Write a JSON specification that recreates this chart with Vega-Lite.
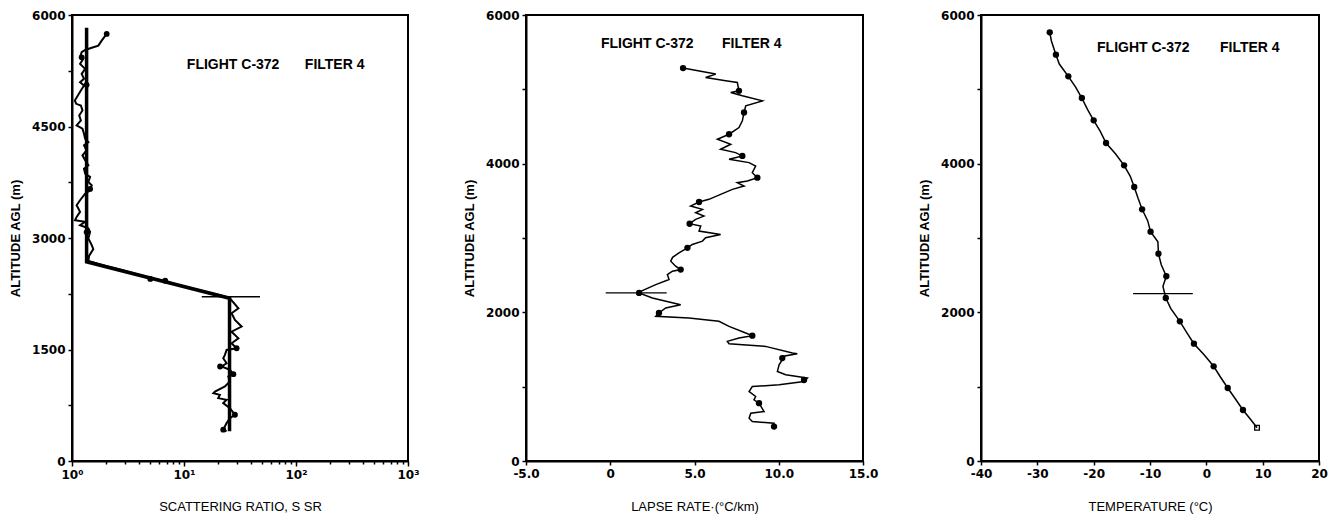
{
  "$schema": "https://vega.github.io/schema/vega-lite/v6.json",
  "background": "white",
  "padding": {"left": 8, "top": 8, "right": 5, "bottom": 5},
  "bounds": "flush",
  "spacing": 118,
  "config": {
    "view": {"stroke": "black", "strokeWidth": 2},
    "axis": {
      "grid": false,
      "domainColor": "black",
      "domainWidth": 2,
      "tickColor": "black",
      "tickWidth": 1.5,
      "tickSize": 4,
      "labelFont": "DejaVu Sans",
      "labelFontWeight": "bold",
      "labelFontSize": 12,
      "labelColor": "black",
      "labelPadding": 3,
      "labelFlush": false,
      "labelOverlap": false,
      "titleFont": "Liberation Sans",
      "titleFontSize": 13,
      "titleColor": "black"
    },
    "axisY": {"titleFontWeight": "bold", "titleX": -57, "titleY": 223, "titleAngle": 270, "titleAlign": "center", "titleBaseline": "middle"},
    "axisX": {"titleFontWeight": "normal", "titleY": 45, "titleBaseline": "middle"},
    "text": {"font": "Liberation Sans", "fontWeight": "bold", "fontSize": 14, "align": "left", "baseline": "middle", "color": "black"}
  },
  "datasets": {
    "sr_fit": [
      {"x": 1.35, "alt": 5830},
      {"x": 1.35, "alt": 2680},
      {"x": 25.5, "alt": 2190},
      {"x": 25.5, "alt": 400}
    ],
    "sr_obs": [
      {"x": 2.04, "alt": 5745}, {"x": 1.84, "alt": 5655}, {"x": 1.72, "alt": 5588}, {"x": 1.55, "alt": 5566},
      {"x": 1.31, "alt": 5530}, {"x": 1.22, "alt": 5499}, {"x": 1.18, "alt": 5432}, {"x": 1.26, "alt": 5409},
      {"x": 1.18, "alt": 5342}, {"x": 1.31, "alt": 5275}, {"x": 1.22, "alt": 5208}, {"x": 1.28, "alt": 5141},
      {"x": 1.18, "alt": 5096}, {"x": 1.28, "alt": 5051}, {"x": 1.20, "alt": 4984}, {"x": 1.06, "alt": 4850},
      {"x": 1.09, "alt": 4805}, {"x": 1.20, "alt": 4783}, {"x": 1.24, "alt": 4716}, {"x": 1.16, "alt": 4649},
      {"x": 1.20, "alt": 4581}, {"x": 1.10, "alt": 4514}, {"x": 1.24, "alt": 4470}, {"x": 1.28, "alt": 4402},
      {"x": 1.31, "alt": 4335}, {"x": 1.40, "alt": 4291}, {"x": 1.28, "alt": 4246}, {"x": 1.35, "alt": 4179},
      {"x": 1.24, "alt": 4112}, {"x": 1.31, "alt": 4045}, {"x": 1.40, "alt": 3977}, {"x": 1.28, "alt": 3933},
      {"x": 1.31, "alt": 3866}, {"x": 1.45, "alt": 3821}, {"x": 1.40, "alt": 3754}, {"x": 1.50, "alt": 3709},
      {"x": 1.45, "alt": 3642}, {"x": 1.31, "alt": 3597}, {"x": 1.18, "alt": 3508}, {"x": 1.10, "alt": 3441},
      {"x": 1.18, "alt": 3351}, {"x": 1.10, "alt": 3284}, {"x": 1.064, "alt": 3239}, {"x": 1.31, "alt": 3217},
      {"x": 1.18, "alt": 3172}, {"x": 1.40, "alt": 3130}, {"x": 1.45, "alt": 3083}, {"x": 1.40, "alt": 2993},
      {"x": 1.50, "alt": 2904}, {"x": 1.55, "alt": 2850}, {"x": 1.42, "alt": 2760}, {"x": 1.40, "alt": 2690},
      {"x": 2.0, "alt": 2625}, {"x": 3.0, "alt": 2555}, {"x": 4.8, "alt": 2468}, {"x": 5.5, "alt": 2445},
      {"x": 6.8, "alt": 2425}, {"x": 8.0, "alt": 2385}, {"x": 12.0, "alt": 2318}, {"x": 17.7, "alt": 2258},
      {"x": 22.0, "alt": 2220}, {"x": 25.7, "alt": 2188}, {"x": 30.6, "alt": 2054}, {"x": 26.6, "alt": 1987},
      {"x": 28.5, "alt": 1897}, {"x": 32.7, "alt": 1808}, {"x": 26.6, "alt": 1740}, {"x": 30.6, "alt": 1651},
      {"x": 26.6, "alt": 1584}, {"x": 29.5, "alt": 1517}, {"x": 24.0, "alt": 1494}, {"x": 23.2, "alt": 1427},
      {"x": 22.4, "alt": 1383}, {"x": 24.0, "alt": 1315}, {"x": 21.7, "alt": 1271}, {"x": 25.7, "alt": 1226},
      {"x": 27.6, "alt": 1168}, {"x": 24.9, "alt": 1137}, {"x": 25.7, "alt": 1069}, {"x": 23.2, "alt": 1002},
      {"x": 18.9, "alt": 935}, {"x": 18.3, "alt": 913}, {"x": 20.9, "alt": 890}, {"x": 20.2, "alt": 846},
      {"x": 24.0, "alt": 823}, {"x": 22.4, "alt": 779}, {"x": 25.7, "alt": 711}, {"x": 28.5, "alt": 622},
      {"x": 25.7, "alt": 577}, {"x": 24.0, "alt": 510}, {"x": 22.4, "alt": 421}, {"x": 24.0, "alt": 398}
    ],
    "sr_marks": [
      {"x": 2.04, "alt": 5745}, {"x": 1.22, "alt": 5430}, {"x": 1.35, "alt": 5060}, {"x": 1.45, "alt": 3660},
      {"x": 1.35, "alt": 3080}, {"x": 5.0, "alt": 2450}, {"x": 6.8, "alt": 2425}, {"x": 29.5, "alt": 1517},
      {"x": 21.0, "alt": 1271}, {"x": 27.6, "alt": 1168}, {"x": 28.5, "alt": 622}, {"x": 22.4, "alt": 421}
    ],
    "sr_inv": [{"x": 14.4, "x2": 47.7, "alt": 2211}],
    "sr_text": [
      {"label": "FLIGHT C-372", "x": 10.6, "alt": 5329},
      {"label": "FILTER 4", "x": 120, "alt": 5329}
    ],
    "lr_obs": [
      {"x": 4.32, "alt": 5286}, {"x": 6.26, "alt": 5205}, {"x": 5.66, "alt": 5160}, {"x": 6.85, "alt": 5115},
      {"x": 7.54, "alt": 5092}, {"x": 7.64, "alt": 4980}, {"x": 7.15, "alt": 4958}, {"x": 7.84, "alt": 4913},
      {"x": 9.03, "alt": 4845}, {"x": 8.04, "alt": 4778}, {"x": 7.94, "alt": 4688}, {"x": 7.84, "alt": 4576},
      {"x": 7.64, "alt": 4486}, {"x": 7.05, "alt": 4396}, {"x": 6.36, "alt": 4328}, {"x": 7.15, "alt": 4261},
      {"x": 6.55, "alt": 4194}, {"x": 7.44, "alt": 4149}, {"x": 7.84, "alt": 4104}, {"x": 7.05, "alt": 4059},
      {"x": 8.24, "alt": 4014}, {"x": 8.63, "alt": 3969}, {"x": 8.43, "alt": 3879}, {"x": 8.73, "alt": 3812},
      {"x": 8.14, "alt": 3767}, {"x": 7.54, "alt": 3744}, {"x": 7.94, "alt": 3699}, {"x": 7.25, "alt": 3654},
      {"x": 6.55, "alt": 3587}, {"x": 5.86, "alt": 3520}, {"x": 5.27, "alt": 3484}, {"x": 4.77, "alt": 3430},
      {"x": 5.47, "alt": 3385}, {"x": 5.07, "alt": 3340}, {"x": 5.56, "alt": 3295}, {"x": 5.07, "alt": 3250},
      {"x": 4.71, "alt": 3192}, {"x": 5.37, "alt": 3160}, {"x": 5.27, "alt": 3093}, {"x": 6.55, "alt": 3048},
      {"x": 5.66, "alt": 3003}, {"x": 5.47, "alt": 2958}, {"x": 4.87, "alt": 2913}, {"x": 4.58, "alt": 2868},
      {"x": 4.08, "alt": 2801}, {"x": 3.70, "alt": 2740}, {"x": 3.59, "alt": 2688}, {"x": 3.88, "alt": 2620},
      {"x": 4.18, "alt": 2575}, {"x": 3.69, "alt": 2553}, {"x": 3.39, "alt": 2508}, {"x": 3.49, "alt": 2441},
      {"x": 2.70, "alt": 2373}, {"x": 1.81, "alt": 2283}, {"x": 1.71, "alt": 2261}, {"x": 2.50, "alt": 2193},
      {"x": 4.18, "alt": 2103}, {"x": 3.29, "alt": 2059}, {"x": 2.89, "alt": 1991}, {"x": 2.70, "alt": 1946},
      {"x": 4.67, "alt": 1924}, {"x": 6.45, "alt": 1879}, {"x": 7.05, "alt": 1811}, {"x": 8.04, "alt": 1722},
      {"x": 8.43, "alt": 1686}, {"x": 7.64, "alt": 1654}, {"x": 6.95, "alt": 1609}, {"x": 7.05, "alt": 1578},
      {"x": 9.22, "alt": 1542}, {"x": 10.81, "alt": 1452}, {"x": 11.10, "alt": 1443}, {"x": 10.21, "alt": 1407},
      {"x": 10.21, "alt": 1362}, {"x": 10.02, "alt": 1295}, {"x": 9.92, "alt": 1205}, {"x": 10.41, "alt": 1160},
      {"x": 11.70, "alt": 1115}, {"x": 11.50, "alt": 1070}, {"x": 10.02, "alt": 1025}, {"x": 8.43, "alt": 1002},
      {"x": 8.24, "alt": 935}, {"x": 8.63, "alt": 868}, {"x": 8.53, "alt": 823}, {"x": 8.83, "alt": 778},
      {"x": 9.13, "alt": 665}, {"x": 8.34, "alt": 643}, {"x": 8.24, "alt": 576}, {"x": 8.43, "alt": 531},
      {"x": 9.72, "alt": 508}, {"x": 9.72, "alt": 463}
    ],
    "lr_marks": [
      {"x": 4.32, "alt": 5286}, {"x": 7.64, "alt": 4980}, {"x": 7.94, "alt": 4688}, {"x": 7.05, "alt": 4396},
      {"x": 7.84, "alt": 4104}, {"x": 8.73, "alt": 3812}, {"x": 5.27, "alt": 3484}, {"x": 4.71, "alt": 3192},
      {"x": 4.58, "alt": 2868}, {"x": 4.18, "alt": 2575}, {"x": 1.71, "alt": 2261}, {"x": 2.89, "alt": 1991},
      {"x": 8.43, "alt": 1686}, {"x": 10.21, "alt": 1385}, {"x": 11.50, "alt": 1090}, {"x": 8.83, "alt": 778},
      {"x": 9.72, "alt": 463}
    ],
    "lr_inv": [{"x": -0.27, "x2": 3.35, "alt": 2261}],
    "lr_text": [
      {"label": "FLIGHT C-372", "x": -0.55, "alt": 5609},
      {"label": "FILTER 4", "x": 6.63, "alt": 5609}
    ],
    "t_obs": [
      {"x": -27.8, "alt": 5767}, {"x": -27.5, "alt": 5650}, {"x": -26.7, "alt": 5466}, {"x": -26.1, "alt": 5340},
      {"x": -24.5, "alt": 5175}, {"x": -23.2, "alt": 5030}, {"x": -22.1, "alt": 4883}, {"x": -21.1, "alt": 4730},
      {"x": -20.0, "alt": 4583}, {"x": -18.8, "alt": 4430}, {"x": -17.8, "alt": 4278}, {"x": -16.1, "alt": 4130},
      {"x": -14.6, "alt": 3978}, {"x": -13.5, "alt": 3830}, {"x": -12.8, "alt": 3686}, {"x": -12.1, "alt": 3530},
      {"x": -11.4, "alt": 3386}, {"x": -10.4, "alt": 3230}, {"x": -9.9, "alt": 3085}, {"x": -8.6, "alt": 2950},
      {"x": -8.5, "alt": 2789}, {"x": -8.0, "alt": 2640}, {"x": -7.1, "alt": 2485}, {"x": -7.7, "alt": 2350},
      {"x": -7.2, "alt": 2193}, {"x": -6.3, "alt": 2050}, {"x": -4.7, "alt": 1879}, {"x": -3.5, "alt": 1730},
      {"x": -2.2, "alt": 1578}, {"x": -0.4, "alt": 1430}, {"x": 1.3, "alt": 1274}, {"x": 2.5, "alt": 1130},
      {"x": 3.8, "alt": 982}, {"x": 5.2, "alt": 830}, {"x": 6.5, "alt": 686}, {"x": 7.8, "alt": 565},
      {"x": 9.0, "alt": 448}
    ],
    "t_marks": [
      {"x": -27.8, "alt": 5767}, {"x": -26.7, "alt": 5466}, {"x": -24.5, "alt": 5175}, {"x": -22.1, "alt": 4883},
      {"x": -20.0, "alt": 4583}, {"x": -17.8, "alt": 4278}, {"x": -14.6, "alt": 3978}, {"x": -12.8, "alt": 3686},
      {"x": -11.4, "alt": 3386}, {"x": -9.9, "alt": 3085}, {"x": -8.5, "alt": 2789}, {"x": -7.1, "alt": 2485},
      {"x": -7.2, "alt": 2193}, {"x": -4.7, "alt": 1879}, {"x": -2.2, "alt": 1578}, {"x": 1.3, "alt": 1274},
      {"x": 3.8, "alt": 982}, {"x": 6.5, "alt": 686}, {"x": 9.0, "alt": 448}
    ],
    "t_inv": [{"x": -13.0, "x2": -2.4, "alt": 2251}],
    "t_text": [
      {"label": "FLIGHT C-372", "x": -19.4, "alt": 5556},
      {"label": "FILTER 4", "x": 2.43, "alt": 5556}
    ]
  },
  "hconcat": [
    {
      "width": 336,
      "height": 446,
      "layer": [
        {
          "data": {"name": "sr_fit"},
          "mark": {"type": "line", "color": "black", "strokeWidth": 3.5},
          "encoding": {
            "x": {"field": "x", "type": "quantitative", "scale": {"type": "log", "domain": [1, 1000], "nice": false},
              "axis": {"title": "SCATTERING RATIO,  S SR",
                "values": [1,2,3,4,5,6,7,8,9,10,20,30,40,50,60,70,80,90,100,200,300,400,500,600,700,800,900,1000],
                "labelExpr": "datum.value == 1 ? '10⁰' : datum.value == 10 ? '10¹' : datum.value == 100 ? '10²' : datum.value == 1000 ? '10³' : ''",
                "tickSize": {"condition": {"test": "datum.value == 1 || datum.value == 10 || datum.value == 100 || datum.value == 1000", "value": 5}, "value": 3}}},
            "y": {"field": "alt", "type": "quantitative", "scale": {"domain": [0, 6000], "nice": false},
              "axis": {"title": "ALTITUDE AGL (m)",
                "values": [0,750,1500,2250,3000,3750,4500,5250,6000],
                "labelExpr": "datum.value % 1500 == 0 ? format(datum.value, 'd') : ''"}},
            "order": {"field": "alt", "sort": "descending"}
          }
        },
        {
          "data": {"name": "sr_obs"},
          "mark": {"type": "line", "color": "black", "strokeWidth": 2},
          "encoding": {
            "x": {"field": "x", "type": "quantitative", "scale": {"type": "log", "domain": [1, 1000], "nice": false}},
            "y": {"field": "alt", "type": "quantitative", "scale": {"domain": [0, 6000], "nice": false}},
            "order": {"field": "alt", "sort": "descending"}
          }
        },
        {
          "data": {"name": "sr_marks"},
          "mark": {"type": "point", "filled": true, "color": "black", "size": 34, "opacity": 1},
          "encoding": {
            "x": {"field": "x", "type": "quantitative", "scale": {"type": "log", "domain": [1, 1000], "nice": false}},
            "y": {"field": "alt", "type": "quantitative", "scale": {"domain": [0, 6000], "nice": false}}
          }
        },
        {
          "data": {"name": "sr_inv"},
          "mark": {"type": "rule", "color": "black", "strokeWidth": 1.5},
          "encoding": {
            "x": {"field": "x", "type": "quantitative", "scale": {"type": "log", "domain": [1, 1000], "nice": false}},
            "x2": {"field": "x2"},
            "y": {"field": "alt", "type": "quantitative", "scale": {"domain": [0, 6000], "nice": false}}
          }
        },
        {
          "data": {"name": "sr_text"},
          "mark": {"type": "text"},
          "encoding": {
            "x": {"field": "x", "type": "quantitative", "scale": {"type": "log", "domain": [1, 1000], "nice": false}},
            "y": {"field": "alt", "type": "quantitative", "scale": {"domain": [0, 6000], "nice": false}},
            "text": {"field": "label"}
          }
        }
      ]
    },
    {
      "width": 337,
      "height": 446,
      "layer": [
        {
          "data": {"name": "lr_obs"},
          "mark": {"type": "line", "color": "black", "strokeWidth": 1.5},
          "encoding": {
            "x": {"field": "x", "type": "quantitative", "scale": {"domain": [-5, 15], "nice": false, "zero": false},
              "axis": {"title": "LAPSE RATE·(°C/km)", "values": [-5, 0, 5, 10, 15],
                "labelExpr": "datum.value == 0 ? '0' : datum.value < 0 ? '-' + format(-datum.value, '.1f') : format(datum.value, '.1f')"}},
            "y": {"field": "alt", "type": "quantitative", "scale": {"domain": [0, 6000], "nice": false},
              "axis": {"title": "ALTITUDE AGL (m)", "values": [0,1000,2000,3000,4000,5000,6000],
                "labelExpr": "datum.value % 2000 == 0 ? format(datum.value, 'd') : ''"}},
            "order": {"field": "alt", "sort": "descending"}
          }
        },
        {
          "data": {"name": "lr_marks"},
          "mark": {"type": "point", "filled": true, "color": "black", "size": 40, "opacity": 1},
          "encoding": {
            "x": {"field": "x", "type": "quantitative", "scale": {"domain": [-5, 15], "nice": false, "zero": false}},
            "y": {"field": "alt", "type": "quantitative", "scale": {"domain": [0, 6000], "nice": false}}
          }
        },
        {
          "data": {"name": "lr_inv"},
          "mark": {"type": "rule", "color": "black", "strokeWidth": 1.3},
          "encoding": {
            "x": {"field": "x", "type": "quantitative", "scale": {"domain": [-5, 15], "nice": false, "zero": false}},
            "x2": {"field": "x2"},
            "y": {"field": "alt", "type": "quantitative", "scale": {"domain": [0, 6000], "nice": false}}
          }
        },
        {
          "data": {"name": "lr_text"},
          "mark": {"type": "text"},
          "encoding": {
            "x": {"field": "x", "type": "quantitative", "scale": {"domain": [-5, 15], "nice": false, "zero": false}},
            "y": {"field": "alt", "type": "quantitative", "scale": {"domain": [0, 6000], "nice": false}},
            "text": {"field": "label"}
          }
        }
      ]
    },
    {
      "width": 338,
      "height": 446,
      "layer": [
        {
          "data": {"name": "t_obs"},
          "mark": {"type": "line", "color": "black", "strokeWidth": 1.5},
          "encoding": {
            "x": {"field": "x", "type": "quantitative", "scale": {"domain": [-40, 20], "nice": false, "zero": false},
              "axis": {"title": "TEMPERATURE (°C)", "values": [-40, -30, -20, -10, 0, 10, 20],
                "labelExpr": "datum.value < 0 ? '-' + format(-datum.value, 'd') : format(datum.value, 'd')"}},
            "y": {"field": "alt", "type": "quantitative", "scale": {"domain": [0, 6000], "nice": false},
              "axis": {"title": "ALTITUDE AGL (m)", "values": [0,1000,2000,3000,4000,5000,6000],
                "labelExpr": "datum.value % 2000 == 0 ? format(datum.value, 'd') : ''"}},
            "order": {"field": "alt", "sort": "descending"}
          }
        },
        {
          "data": {"name": "t_marks"},
          "transform": [{"filter": "datum.alt >= 500"}],
          "mark": {"type": "point", "filled": true, "color": "black", "size": 40, "opacity": 1},
          "encoding": {
            "x": {"field": "x", "type": "quantitative", "scale": {"domain": [-40, 20], "nice": false, "zero": false}},
            "y": {"field": "alt", "type": "quantitative", "scale": {"domain": [0, 6000], "nice": false}}
          }
        },
        {
          "data": {"name": "t_marks"},
          "transform": [{"filter": "datum.alt < 500"}],
          "mark": {"type": "point", "shape": "square", "filled": false, "color": "black", "strokeWidth": 1.3, "size": 22, "opacity": 1},
          "encoding": {
            "x": {"field": "x", "type": "quantitative", "scale": {"domain": [-40, 20], "nice": false, "zero": false}},
            "y": {"field": "alt", "type": "quantitative", "scale": {"domain": [0, 6000], "nice": false}}
          }
        },
        {
          "data": {"name": "t_inv"},
          "mark": {"type": "rule", "color": "black", "strokeWidth": 1.3},
          "encoding": {
            "x": {"field": "x", "type": "quantitative", "scale": {"domain": [-40, 20], "nice": false, "zero": false}},
            "x2": {"field": "x2"},
            "y": {"field": "alt", "type": "quantitative", "scale": {"domain": [0, 6000], "nice": false}}
          }
        },
        {
          "data": {"name": "t_text"},
          "mark": {"type": "text"},
          "encoding": {
            "x": {"field": "x", "type": "quantitative", "scale": {"domain": [-40, 20], "nice": false, "zero": false}},
            "y": {"field": "alt", "type": "quantitative", "scale": {"domain": [0, 6000], "nice": false}},
            "text": {"field": "label"}
          }
        }
      ]
    }
  ]
}
